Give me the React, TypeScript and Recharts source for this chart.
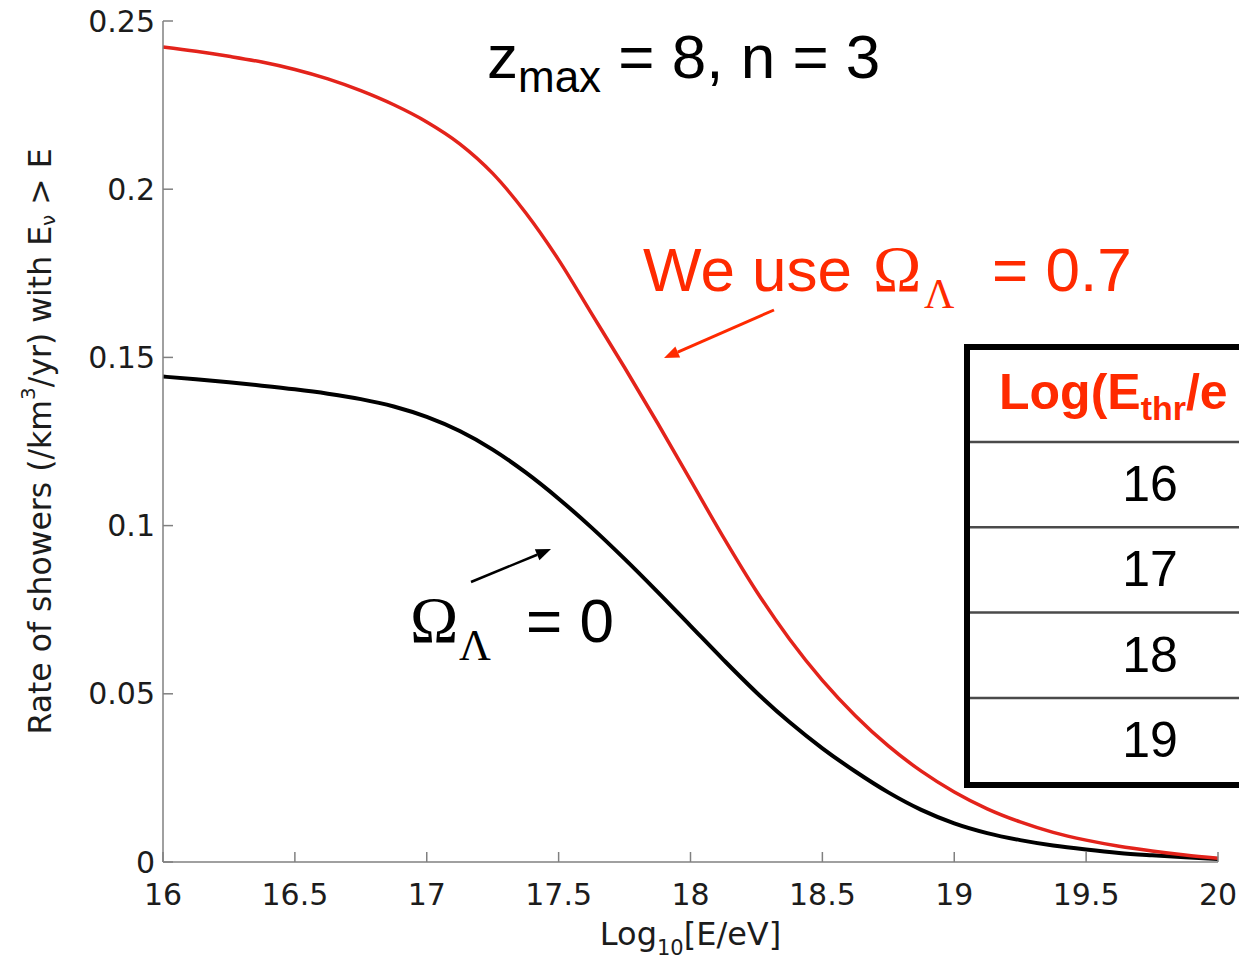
import React from 'react';
import { LineChart, Line, XAxis, YAxis } from 'recharts';

// log10(E/eV)
const energies = [
  16, 16.125, 16.25, 16.375, 16.5, 16.625, 16.75, 16.875,
  17, 17.125, 17.25, 17.375, 17.5, 17.625, 17.75, 17.875,
  18, 18.125, 18.25, 18.375, 18.5, 18.625, 18.75, 18.875,
  19, 19.125, 19.25, 19.375, 19.5, 19.625, 19.75, 19.875, 20,
];

// Omega_Lambda = 0.7 (red)
const rateLambda07 = [
  0.2423, 0.241, 0.2395, 0.2378, 0.2356, 0.2328, 0.2293, 0.2251,
  0.22, 0.2135, 0.2047, 0.193, 0.179, 0.163, 0.147, 0.1305,
  0.1135, 0.0965, 0.0805, 0.0663, 0.054, 0.0435, 0.0345, 0.027,
  0.0208, 0.0158, 0.0119, 0.0088, 0.0065, 0.0047, 0.0033, 0.0021, 0.0011,
];

// Omega_Lambda = 0 (black)
const rateLambda0 = [
  0.1443, 0.1435, 0.1426, 0.1416, 0.1405, 0.1392, 0.1376, 0.1354,
  0.1323, 0.1281, 0.1226, 0.1158, 0.108, 0.0994, 0.0901, 0.0803,
  0.0702, 0.0601, 0.0504, 0.0416, 0.0338, 0.0269, 0.0207, 0.0155,
  0.0115, 0.0086, 0.0065, 0.0049, 0.0037, 0.0027, 0.002, 0.0014, 0.0009,
];

const xTicks = [16, 16.5, 17, 17.5, 18, 18.5, 19, 19.5, 20];
const yTicks = [0, 0.05, 0.1, 0.15, 0.2, 0.25];
const thresholdRows = ['16', '17', '18', '19'];

const data = energies.map((x, i) => ({
  x,
  lambda07: rateLambda07[i],
  lambda0: rateLambda0[i],
}));

const W = 1239;
const H = 963;
const axisFont = '"DejaVu Sans", sans-serif';
const slideFont = '"Liberation Sans", Arial, sans-serif';
const serifFont = '"Liberation Serif", "Times New Roman", serif';
const slideRed = '#ff2a00';
const axisGray = '#808080';
const tickText = '#1c1c1c';

const YTitle = (props: any) => {
  const vb = props.viewBox || { x: 0, y: 21, width: 163, height: 841 };
  const cx = vb.x + 40;
  const cy = vb.y + vb.height / 2;
  return (
    <text
      x={cx}
      y={cy}
      transform={`rotate(-90 ${cx} ${cy})`}
      textAnchor="middle"
      dominantBaseline="central"
      fontFamily={axisFont}
      fontSize={31.5}
      fill={tickText}
    >
      Rate of showers (/km
      <tspan fontSize={20} dy={-12}>3</tspan>
      <tspan dy={12}>/yr) with E</tspan>
      <tspan fontSize={20} dy={8}>ν</tspan>
      <tspan dy={-8}> &gt; E</tspan>
    </text>
  );
};

const XTitle = (props: any) => {
  const vb = props.viewBox || { x: 163, y: 862, width: 1055, height: 101 };
  const cx = vb.x + vb.width / 2;
  return (
    <text
      x={cx}
      y={vb.y + 83}
      textAnchor="middle"
      fontFamily={axisFont}
      fontSize={32}
      fill={tickText}
    >
      Log
      <tspan fontSize={21} dy={10}>10</tspan>
      <tspan dy={-10}>[E/eV]</tspan>
    </text>
  );
};

const Arrow = ({ x1, y1, x2, y2, color, width }: any) => {
  const ang = Math.atan2(y2 - y1, x2 - x1);
  const len = 15;
  const half = 6;
  const bx = x2 - len * Math.cos(ang);
  const by = y2 - len * Math.sin(ang);
  const px = -Math.sin(ang) * half;
  const py = Math.cos(ang) * half;
  return (
    <g>
      <line x1={x1} y1={y1} x2={bx} y2={by} stroke={color} strokeWidth={width} />
      <polygon
        points={`${x2},${y2} ${bx + px},${by + py} ${bx - px},${by - py}`}
        fill={color}
      />
    </g>
  );
};

const Overlay = () => (
  <svg
    width={W}
    height={H}
    style={{ position: 'absolute', left: 0, top: 0, pointerEvents: 'none' }}
  >
    {/* title */}
    <text x={487} y={78} fontFamily={slideFont} fontSize={62} fill="#000">
      z
      <tspan fontSize={44} dy={14}>max</tspan>
      <tspan dy={-14}> = 8, n = 3</tspan>
    </text>

    {/* red annotation */}
    <text x={643} y={291} fontFamily={slideFont} fontSize={62} fill={slideRed}>
      We use
      <tspan x={873} fontFamily={serifFont} fontSize={65}>Ω</tspan>
      <tspan x={924} dy={17} fontFamily={serifFont} fontSize={42}>Λ</tspan>
      <tspan x={992} dy={-17}>= 0.7</tspan>
    </text>
    <Arrow x1={774} y1={310} x2={664} y2={358} color={slideRed} width={3} />

    {/* black annotation */}
    <text x={410} y={642} fontFamily={serifFont} fontSize={65} fill="#000">
      Ω
      <tspan x={459} dy={18} fontSize={44}>Λ</tspan>
      <tspan x={526} dy={-18} fontFamily={slideFont} fontSize={62}>= 0</tspan>
    </text>
    <Arrow x1={471} y1={582} x2={551} y2={549} color="#000" width={2.5} />

    {/* threshold table, cut off at the right edge as in the slide */}
    <rect x={967} y={347} width={340} height={438} fill="#fff" stroke="#000" strokeWidth={6} />
    {thresholdRows.map((_, i) => (
      <line
        key={`l${i}`}
        x1={970}
        x2={W}
        y1={442 + i * 85.3}
        y2={442 + i * 85.3}
        stroke="#4a4a4a"
        strokeWidth={2.5}
      />
    ))}
    <text x={999} y={409} fontFamily={slideFont} fontWeight="bold" fontSize={50} fill={slideRed}>
      Log(E
      <tspan dy={11} fontSize={34}>thr</tspan>
      <tspan dy={-11}>/e</tspan>
    </text>
    {thresholdRows.map((v, i) => (
      <text
        key={v}
        x={1150}
        y={501 + i * 85.3}
        textAnchor="middle"
        fontFamily={slideFont}
        fontSize={50}
        fill="#000"
      >
        {v}
      </text>
    ))}
  </svg>
);

export default function App() {
  return (
    <div
      style={{
        position: 'absolute',
        left: 0,
        top: 0,
        width: W,
        height: H,
        overflow: 'hidden',
        background: '#fff',
      }}
    >
      <LineChart
        width={W}
        height={H}
        data={data}
        margin={{ top: 21, right: 21, left: 0, bottom: 0 }}
      >
        <XAxis
          dataKey="x"
          type="number"
          domain={[16, 20]}
          ticks={xTicks}
          height={101}
          stroke={axisGray}
          strokeWidth={1.5}
          tickSize={-10}
          tickMargin={32}
          tick={{ fill: tickText, fontSize: 30, fontFamily: axisFont }}
          label={XTitle}
        />
        <YAxis
          type="number"
          domain={[0, 0.25]}
          ticks={yTicks}
          width={163}
          stroke={axisGray}
          strokeWidth={1.5}
          tickSize={-10}
          tickMargin={18}
          tick={{ fill: tickText, fontSize: 30, fontFamily: axisFont }}
          label={YTitle}
        />
        <Line
          type="monotone"
          dataKey="lambda0"
          stroke="#000"
          strokeWidth={4}
          dot={false}
          activeDot={false}
          isAnimationActive={false}
        />
        <Line
          type="monotone"
          dataKey="lambda07"
          stroke="#e3231b"
          strokeWidth={3.5}
          dot={false}
          activeDot={false}
          isAnimationActive={false}
        />
      </LineChart>
      <Overlay />
    </div>
  );
}
